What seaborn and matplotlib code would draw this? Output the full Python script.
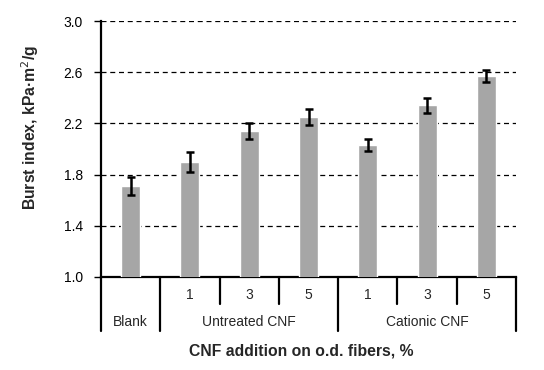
import numpy as np
import pandas as pd
import matplotlib
matplotlib.use('Agg')
import matplotlib.pyplot as plt
import seaborn as sns

# Data
labels = ['Blank', 'U1', 'U3', 'U5', 'C1', 'C3', 'C5']
burst = [1.71, 1.90, 2.14, 2.25, 2.03, 2.34, 2.57]
err = [0.07, 0.08, 0.06, 0.06, 0.045, 0.055, 0.045]
dose_labels = ['', '1', '3', '5', '1', '3', '5']
groups = ['Blank', 'Untreated CNF', 'Cationic CNF']
group_sizes = [1, 3, 3]

df = pd.DataFrame({'label': labels, 'burst': burst, 'err': err})

sns.set_style('white')
plt.rcParams['font.family'] = ['Liberation Sans', 'DejaVu Sans']

fig = plt.figure(figsize=(5.44, 3.70), dpi=100)
ax = fig.add_axes([101/544, 1 - 277/370, (516 - 101)/544, (277 - 21)/370])

sns.barplot(data=df, x='label', y='burst', color='#A6A6A6', saturation=1,
            width=0.32, errorbar=None, ax=ax, zorder=3)
x = np.arange(len(labels))
ax.errorbar(x, df['burst'], yerr=df['err'], fmt='none', ecolor='black',
            elinewidth=1.8, capsize=3, capthick=1.8, zorder=4)

# axes styling
ax.set_ylim(1.0, 3.0)
ax.set_xlim(-0.5, len(labels) - 0.5)
ax.set_yticks(np.arange(1.0, 3.01, 0.4))
ax.set_yticklabels([f'{v:.1f}' for v in np.arange(1.0, 3.01, 0.4)])
ax.tick_params(axis='y', length=5, width=1, direction='out', pad=8,
               labelsize=10, colors='black', left=True)
ax.set_xticks([])
ax.set_xlabel('')
ax.set_ylabel('Burst index, kPa·m$^2$/g', fontsize=11.3, fontweight='bold')
ax.yaxis.set_label_coords(-0.171, 0.584)
ax.yaxis.label.set_va('center')
ax.yaxis.grid(True, linestyle=(0, (4, 3)), color='black', linewidth=0.9)
ax.set_axisbelow(True)
for s in ['top', 'right']:
    ax.spines[s].set_visible(False)
for s in ['left', 'bottom']:
    ax.spines[s].set_color('black')
    ax.spines[s].set_linewidth(1.6)

# category table below the axis
trans = ax.get_xaxis_transform()
short_y, full_y = -0.105, -0.21
bounds = np.cumsum([0] + group_sizes) - 0.5
for b in np.arange(-0.5, len(labels)):
    y_end = full_y if np.any(np.isclose(bounds, b)) else short_y
    ax.plot([b, b], [0, y_end], color='black', linewidth=1.6,
            transform=trans, clip_on=False)
for xi, d in zip(x, dose_labels):
    if d:
        ax.text(xi, -0.07, d, transform=trans, ha='center', va='center',
                fontsize=10)
for g, lo, hi in zip(groups, bounds[:-1], bounds[1:]):
    ax.text((lo + hi) / 2, -0.176, g, transform=trans, ha='center',
            va='center', fontsize=10)

ax.text(0.483, -0.29, 'CNF addition on o.d. fibers, %', transform=ax.transAxes,
        ha='center', va='center', fontsize=11.3, fontweight='bold')

fig.savefig('out.png', dpi=100)
